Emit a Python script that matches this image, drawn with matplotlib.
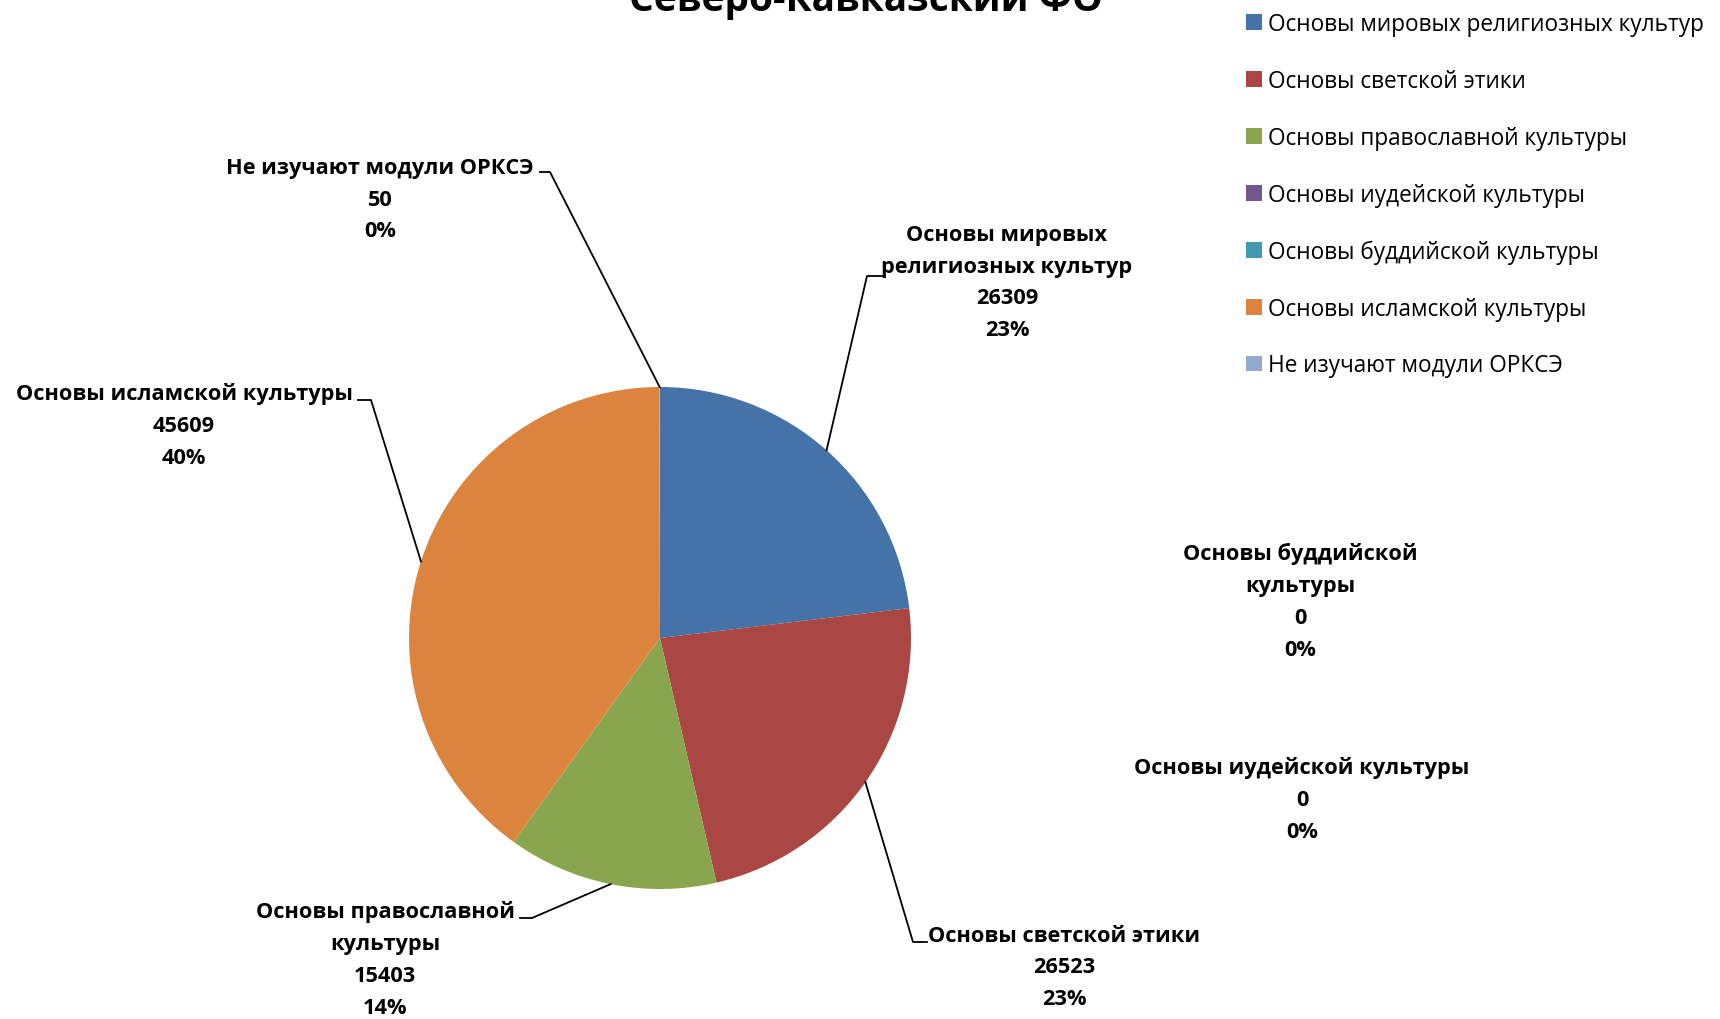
import numpy as np
import matplotlib
matplotlib.use("Agg")
import matplotlib.pyplot as plt

plt.rcParams['font.family'] = ['Open Sans', 'DejaVu Sans']

# data
names = ["Основы мировых религиозных культур", "Основы светской этики",
         "Основы православной культуры", "Основы иудейской культуры",
         "Основы буддийской культуры", "Основы исламской культуры",
         "Не изучают модули ОРКСЭ"]
label_names = ["Основы мировых\nрелигиозных культур", "Основы светской этики",
               "Основы православной\nкультуры", "Основы иудейской культуры",
               "Основы буддийской\nкультуры", "Основы исламской культуры",
               "Не изучают модули ОРКСЭ"]
values = [26309, 26523, 15403, 0, 0, 45609, 50]
colors = ["#4572A7", "#AA4643", "#89A54E", "#71588F", "#4198AF", "#DB843D", "#93A9CF"]
title = "Северо-Кавказский ФО"

W, H = 1720, 1020
def Y(y):
    return H - y

fig = plt.figure(figsize=(W / 100, H / 100), dpi=100)
ax = fig.add_axes([0, 0, 1, 1])

cx, cy, R = 660, 639, 251
wedges, _ = ax.pie(values, colors=colors, startangle=90, counterclock=False,
                   center=(cx, Y(cy)), radius=R, wedgeprops=dict(linewidth=0))
ax.set_xlim(0, W)
ax.set_ylim(0, H)
ax.set_aspect('equal')
ax.axis('off')

total = sum(values)
frac = np.array(values) / total
mid = (np.cumsum(frac) - frac / 2) * 2 * np.pi  # clockwise from top

# label centers and leader elbows (pixel layout)
label_pos = [(1007, 283), (1064, 968), (385, 960), (1302, 800), (1300, 602), (184, 426), (380, 200)]
leaders = {0: [(867, 277), (882, 277)],
           1: [(913, 943), (927, 943)],
           2: [(532, 919), (520, 919)],
           5: [(371, 401), (358, 401)],
           6: [(550, 173), (540, 173)]}

for i, (lx, ly) in enumerate(label_pos):
    pct = round(frac[i] * 100)
    txt = "%s\n%d\n%d%%" % (label_names[i], values[i], pct)
    ax.text(lx, Y(ly), txt, ha='center', va='center', fontsize=15.7,
            fontweight='bold', linespacing=1.68)
    if i in leaders:
        px = cx + R * np.sin(mid[i])
        py = cy - R * np.cos(mid[i])
        pts = [(px, py)] + leaders[i]
        ax.plot([p[0] for p in pts], [Y(p[1]) for p in pts], color='black', linewidth=1.3)

ax.text(866, Y(11.5), title, ha='center', va='baseline', fontsize=28, fontweight='bold')

leg = ax.legend(wedges, names, loc='upper left', bbox_to_anchor=(1237 / W, 1 - 4 / H),
                frameon=False, fontsize=16.3, handlelength=0.7, handleheight=0.7,
                handletextpad=0.25, labelspacing=1.45, borderaxespad=0)

fig.savefig("out.png", dpi=100)
